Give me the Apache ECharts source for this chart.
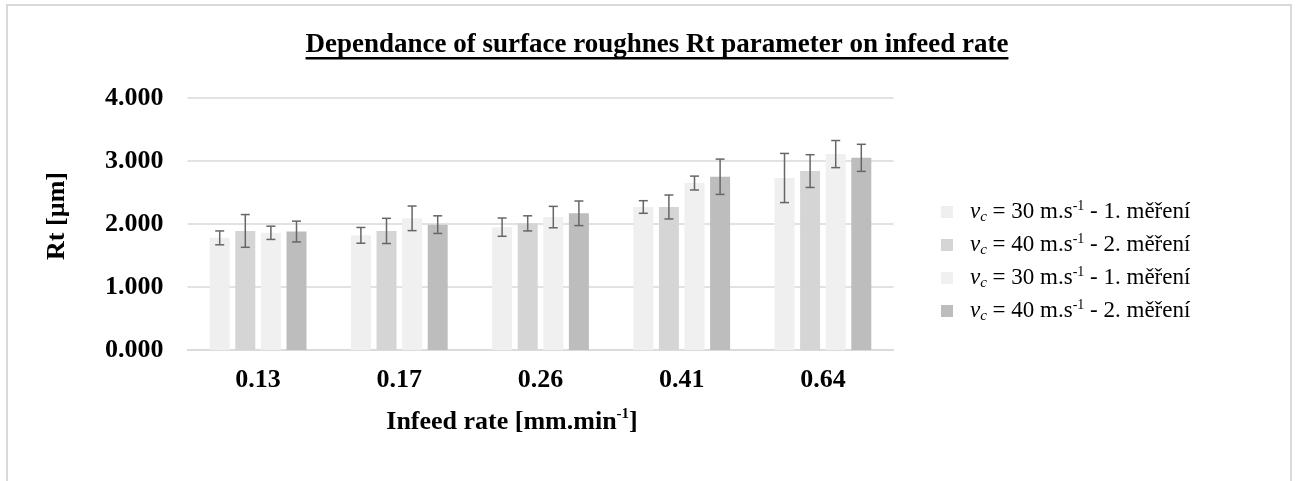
<!DOCTYPE html>
<html>
<head>
<meta charset="utf-8">
<script src="https://cdn.jsdelivr.net/npm/echarts@6/dist/echarts.min.js"></script>
<style>
  html, body { margin: 0; padding: 0; background: #fff; }
  #chart { width: 1296px; height: 481px; }
</style>
</head>
<body>
<div id="chart"></div>
<script>
// Infeed rates [mm.min-1]
const categories = ['0.13', '0.17', '0.26', '0.41', '0.64'];

// Mean Rt [µm] for each measurement series
const s1Values = [1.78, 1.82, 1.95, 2.27, 2.73];
const s2Values = [1.89, 1.89, 2.01, 2.27, 2.84];
const s3Values = [1.86, 2.09, 2.11, 2.65, 3.11];
const s4Values = [1.88, 1.99, 2.17, 2.75, 3.05];

// Half-width of the error bars [µm]
const s1Errors = [0.11, 0.125, 0.145, 0.10, 0.39];
const s2Errors = [0.26, 0.20, 0.12, 0.19, 0.26];
const s3Errors = [0.105, 0.195, 0.17, 0.11, 0.215];
const s4Errors = [0.165, 0.14, 0.195, 0.28, 0.215];

const yTicks = [0, 1, 2, 3, 4];

const legendSpeeds = ['30', '40', '30', '40'];
const legendRuns = ['1', '2', '1', '2'];

const seriesValues = [s1Values, s2Values, s3Values, s4Values];
const seriesErrors = [s1Errors, s2Errors, s3Errors, s4Errors];
const seriesIds = ['s1', 's2', 's3', 's4'];
const colors = ['#efefef', '#d5d5d5', '#f0f0f0', '#bdbdbd'];

const BAR_W = 20;
const BAR_GAP = 0.28;
const SERIF = '"Liberation Serif", "Times New Roman", serif';

const chart = echarts.init(document.getElementById('chart'), null, { renderer: 'canvas' });

// offsets of each bar inside a category group
const gapPx = BAR_W * BAR_GAP;
const groupW = 4 * BAR_W + 3 * gapPx;
const offsets = [0, 1, 2, 3].map(i => -groupW / 2 + BAR_W / 2 + i * (BAR_W + gapPx));

const barSeries = seriesValues.map((vals, i) => ({
  name: seriesIds[i],
  type: 'bar',
  data: vals,
  barWidth: BAR_W,
  barGap: (BAR_GAP * 100) + '%',
  itemStyle: { color: colors[i] },
  emphasis: { disabled: true },
  z: 2
}));

const errorSeries = seriesValues.map((vals, i) => ({
  name: seriesIds[i] + '-err',
  type: 'custom',
  data: vals.map((v, k) => [k, v - seriesErrors[i][k], v + seriesErrors[i][k]]),
  z: 5,
  silent: true,
  renderItem: function (params, api) {
    const k = api.value(0);
    const lo = api.coord([k, api.value(1)]);
    const hi = api.coord([k, api.value(2)]);
    const x = lo[0] + offsets[i];
    const cap = 4.5;
    const style = { stroke: '#666666', lineWidth: 1.5, fill: null };
    return {
      type: 'group',
      children: [
        { type: 'line', shape: { x1: x, y1: lo[1], x2: x, y2: hi[1] }, style },
        { type: 'line', shape: { x1: x - cap, y1: hi[1], x2: x + cap, y2: hi[1] }, style },
        { type: 'line', shape: { x1: x - cap, y1: lo[1], x2: x + cap, y2: lo[1] }, style }
      ]
    };
  }
}));

// width of the title text, for its underline
const titleText = 'Dependance of surface roughnes Rt parameter on infeed rate';
const titleFont = 'bold 27px "Liberation Serif"';
const ctx = document.createElement('canvas').getContext('2d');
ctx.font = titleFont;
const titleW = ctx.measureText(titleText).width;
const titleCx = 657;

const legendRich = {
  v: { fontFamily: SERIF, fontStyle: 'italic', fontSize: 23, color: '#000', lineHeight: 26 },
  c: { fontFamily: SERIF, fontStyle: 'italic', fontSize: 15, color: '#000', lineHeight: 14, verticalAlign: 'bottom' },
  t: { fontFamily: SERIF, fontSize: 23, color: '#000', lineHeight: 26 },
  sup: { fontFamily: SERIF, fontSize: 14, color: '#000', lineHeight: 13, verticalAlign: 'top' }
};

const option = {
  backgroundColor: '#ffffff',
  animation: false,
  grid: { left: 187.5, right: 402.5, top: 98, bottom: 131, containLabel: false },
  xAxis: {
    type: 'category',
    data: categories,
    axisLine: { show: true, lineStyle: { color: '#d9d9d9', width: 1.5 } },
    axisTick: { show: false },
    axisLabel: {
      fontFamily: SERIF, fontWeight: 'bold', fontSize: 26, color: '#000', margin: 17
    }
  },
  yAxis: {
    type: 'value',
    min: yTicks[0],
    max: yTicks[yTicks.length - 1],
    interval: 1,
    axisLine: { show: false },
    axisTick: { show: false },
    splitLine: { lineStyle: { color: '#d9d9d9', width: 1.5 } },
    axisLabel: {
      fontFamily: SERIF, fontWeight: 'bold', fontSize: 26, color: '#000', margin: 24,
      formatter: v => v.toFixed(3)
    }
  },
  legend: {
    orient: 'vertical',
    left: 936,
    top: 194,
    itemWidth: 12,
    itemHeight: 12,
    itemGap: 7,
    icon: 'rect',
    data: seriesIds,
    selectedMode: false,
    formatter: function (name) {
      const i = seriesIds.indexOf(name);
      return '{v|v}{c|c}{t| = ' + legendSpeeds[i] + ' m.s}{sup|-1}{t| - ' + legendRuns[i] + '. měření}';
    },
    textStyle: { rich: legendRich, padding: [0, 0, 0, 12] }
  },
  graphic: [
    {
      type: 'rect',
      shape: { x: 7, y: 5, width: 1284, height: 520 },
      style: { stroke: '#d9d9d9', lineWidth: 2, fill: null },
      silent: true, z: -1
    },
    {
      type: 'text',
      x: titleCx, y: 45,
      style: {
        text: titleText, font: titleFont, fill: '#000',
        align: 'center', verticalAlign: 'middle'
      }
    },
    {
      type: 'rect',
      shape: { x: titleCx - titleW / 2, y: 57, width: titleW, height: 2.5 },
      style: { fill: '#000' }
    },
    {
      type: 'text',
      x: 57, y: 216,
      rotation: Math.PI / 2,
      style: {
        text: 'Rt [µm]', font: 'bold 26px "Liberation Serif"', fill: '#000',
        align: 'center', verticalAlign: 'middle'
      }
    },
    {
      type: 'text',
      x: 512, y: 422,
      style: {
        text: '{a|Infeed rate [mm.min}{s|-1}{a|]}',
        align: 'center', verticalAlign: 'middle',
        rich: {
          a: { fontFamily: SERIF, fontWeight: 'bold', fontSize: 26, fill: '#000', lineHeight: 30 },
          s: { fontFamily: SERIF, fontWeight: 'bold', fontSize: 15, fill: '#000', lineHeight: 15, verticalAlign: 'top' }
        }
      }
    }
  ],
  series: barSeries.concat(errorSeries)
};

chart.setOption(option);
</script>
</body>
</html>
